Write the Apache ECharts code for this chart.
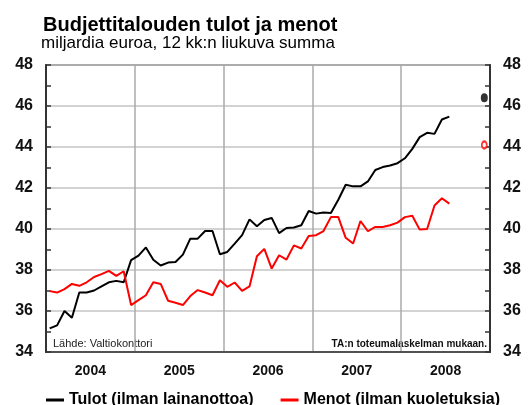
<!DOCTYPE html>
<html>
<head>
<meta charset="utf-8">
<script src="https://cdn.jsdelivr.net/npm/echarts@6/dist/echarts.min.js"></script>
<style>html,body{margin:0;padding:0;background:#fff}#c{width:529px;height:405px}</style>
</head>
<body>
<div id="c"></div>
<script>
// ---- data ----
var years = ['2004', '2005', '2006', '2007', '2008'];
var monthNames = ['01','02','03','04','05','06','07','08','09','10','11','12'];
var yTicks = [34, 36, 38, 40, 42, 44, 46, 48];
// Tulot (ilman lainanottoa), Jan 2004 .. Jul 2008, bn EUR, 12-month rolling sum
var tulot = [35.15, 35.3, 36.0, 35.67, 36.9, 36.9, 37.0, 37.2, 37.4, 37.47, 37.4, 38.48,
             38.7, 39.1, 38.5, 38.22, 38.36, 38.39, 38.75, 39.53, 39.53, 39.9, 39.9, 38.77,
             38.88, 39.29, 39.7, 40.47, 40.13, 40.44, 40.54, 39.8, 40.05, 40.07, 40.18, 40.88,
             40.75, 40.8, 40.78, 41.43, 42.16, 42.08, 42.08, 42.32, 42.88, 43.02, 43.1, 43.21,
             43.45, 43.91, 44.48, 44.69, 44.64, 45.34, 45.48];
// Menot (ilman kuoletuksia)
var menot = [36.97, 36.9, 37.07, 37.32, 37.23, 37.4, 37.66, 37.8, 37.96, 37.71, 37.94, 36.29,
             36.53, 36.77, 37.4, 37.32, 36.5, 36.4, 36.29, 36.73, 37.02, 36.9, 36.77, 37.5,
             37.18, 37.39, 36.98, 37.2, 38.67, 39.03, 38.07, 38.72, 38.51, 39.2, 39.05, 39.66,
             39.7, 39.9, 40.58, 40.58, 39.57, 39.29, 40.39, 39.89, 40.1, 40.1, 40.18, 40.31,
             40.58, 40.65, 39.97, 40.0, 41.15, 41.5, 41.24];
// TA (budget) estimates for 2008
var taTulot2008 = 46.4;
var taMenot2008 = 44.1;
var markerMonth = '2008-12';

var seriesNames = ['Tulot (ilman lainanottoa)', 'Menot (ilman kuoletuksia)'];
var titleText = 'Budjettitalouden tulot ja menot';
var subText = 'miljardia euroa, 12 kk:n liukuva summa';
var sourceText = 'Lähde: Valtiokonttori';
var noteText = 'TA:n toteumalaskelman mukaan.';

// ---- build ----
var months = [];
years.forEach(function (y) { monthNames.forEach(function (m) { months.push(y + '-' + m); }); });

var FONT = '"Liberation Sans", Arial, sans-serif';
var chart = echarts.init(document.getElementById('c'), null, {renderer: 'canvas'});

var yAxisCommon = {
  type: 'value', min: yTicks[0], max: yTicks[yTicks.length - 1], interval: 2,
  axisLine: {show: true, lineStyle: {color: '#333', width: 2}},
  axisTick: {show: true, inside: true, length: 5, lineStyle: {color: '#333', width: 1.5}},
  minorTick: {show: true, splitNumber: 2, length: 5, lineStyle: {color: '#333', width: 1.5}},
  axisLabel: {color: '#111', fontWeight: 'bold', fontSize: 16, fontFamily: FONT, margin: 13},
  splitLine: {show: true, lineStyle: {color: '#c4c4c4', width: 1.5}}
};

chart.setOption({
  animation: false,
  backgroundColor: '#fff',
  graphic: [
    {type: 'text', left: 43, top: 15, style: {text: titleText, font: 'bold 20px ' + FONT, fill: '#000'}},
    {type: 'text', left: 41, top: 35, style: {text: subText, font: '17px ' + FONT, fill: '#000'}},
    {type: 'text', left: 53, top: 338, style: {text: sourceText, font: '11px ' + FONT, fill: '#222'}},
    {type: 'text', right: 42, top: 339, style: {text: noteText, font: 'bold 10px ' + FONT, fill: '#111'}}
  ],
  grid: {left: 46, right: 39, top: 65, bottom: 53, show: true, borderColor: '#333', borderWidth: 1.5, backgroundColor: 'transparent'},
  legend: {
    data: seriesNames, left: 41, top: 387, itemGap: 27, itemWidth: 18, itemHeight: 3,
    icon: 'rect',
    textStyle: {fontFamily: FONT, fontSize: 16, fontWeight: 'bold', color: '#000'}
  },
  xAxis: [
    {type: 'category', data: months, boundaryGap: true, show: true,
     axisLine: {show: true, lineStyle: {color: '#333', width: 1.5}},
     axisTick: {show: false}, axisLabel: {show: false}, splitLine: {show: false}},
    {type: 'category', data: years, boundaryGap: true, position: 'bottom',
     axisLine: {show: false}, axisTick: {show: false},
     axisLabel: {color: '#111', fontWeight: 'bold', fontSize: 14, fontFamily: FONT, margin: 12},
     splitLine: {show: true, lineStyle: {color: '#aaa', width: 1.5}}}
  ],
  yAxis: [
    Object.assign({}, yAxisCommon, {position: 'left'}),
    Object.assign({}, yAxisCommon, {position: 'right', splitLine: {show: false}})
  ],
  series: [
    {name: seriesNames[0], type: 'line', xAxisIndex: 0, yAxisIndex: 0, data: tulot, showSymbol: false,
     color: '#000', lineStyle: {color: '#000', width: 2}, z: 3},
    {name: seriesNames[1], type: 'line', xAxisIndex: 0, yAxisIndex: 0, data: menot, showSymbol: false,
     color: '#ff0000', lineStyle: {color: '#ff0000', width: 2}, z: 3},
    {name: 'TA tulot', type: 'scatter', xAxisIndex: 0, yAxisIndex: 0, data: [[markerMonth, taTulot2008]],
     symbol: 'circle', symbolSize: [7, 9], symbolOffset: [-2, 0], itemStyle: {color: '#000'}, z: 4},
    {name: 'TA menot', type: 'scatter', xAxisIndex: 0, yAxisIndex: 0, data: [[markerMonth, taMenot2008]],
     symbol: 'emptyCircle', symbolSize: [5, 7], symbolOffset: [-2, 0], itemStyle: {color: '#ff0000', borderColor: '#ff0000', borderWidth: 1.5}, z: 4}
  ]
});
</script>
</body>
</html>
